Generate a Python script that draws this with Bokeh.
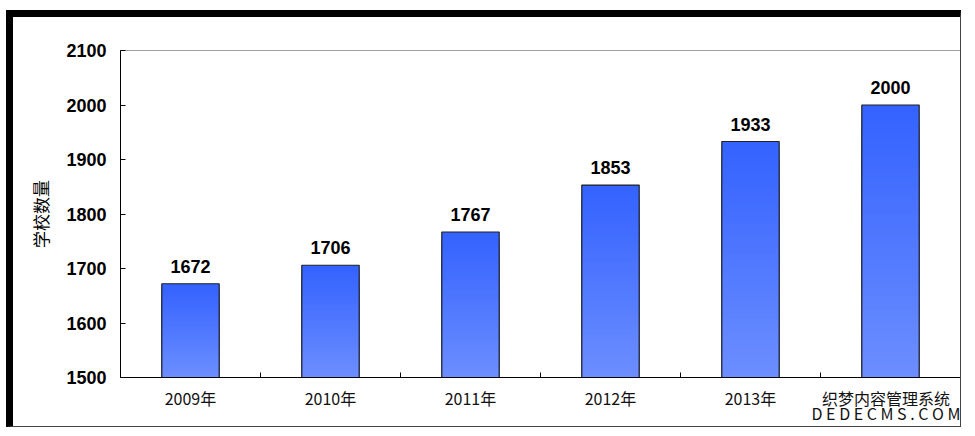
from bokeh.plotting import figure
from bokeh.models import FixedTicker, ColumnDataSource, Range1d
from bokeh.embed import file_html
from bokeh.resources import INLINE
from bokeh.core.properties import value

# ---- data ----
years = ["2009年", "2010年", "2011年", "2012年", "2013年", "2014年"]
schools = [1672, 1706, 1767, 1853, 1933, 2000]
y_ticks = [1500, 1600, 1700, 1800, 1900, 2000, 2100]
y_label = "学校数量"
shown_year_labels = 5  # the last category label is covered by the watermark in the reference
watermark = "织梦内容管理系统\nD E D E C M S . C O M"

base = y_ticks[0]
top_c = (0x33, 0x62, 0xFF)
bot_c = (0x6C, 0x8E, 0xFF)

W, H = 955, 417
p = figure(width=W, height=H, output_backend="svg", toolbar_location=None,
           x_range=Range1d(0, len(years)), y_range=Range1d(y_ticks[0], y_ticks[-1]),
           min_border_left=107, min_border_right=8, min_border_top=33, min_border_bottom=57)
p.styles = {"margin-left": "6px", "margin-top": "10px",
            "border-left": "7px solid black", "border-top": "7px solid black",
            "border-right": "1px solid #444", "border-bottom": "1px solid #444"}
p.background_fill_color = "white"
p.border_fill_color = "white"
p.outline_line_color = "#a0a0a0"
p.grid.visible = False

# gradient bars built from the data: overlapping slices, tallest first
N = 40
xs, tops, cols = [], [], []
for k in range(N - 1, -1, -1):
    t = (k + 1) / N
    c = tuple(int(round(bot_c[j] + (top_c[j] - bot_c[j]) * (k + 0.5) / N)) for j in range(3))
    for i, v in enumerate(schools):
        xs.append(i + 0.5)
        tops.append(base + (v - base) * t)
        cols.append("#%02x%02x%02x" % c)
p.vbar(x=xs, bottom=base, top=tops, width=0.41, fill_color=cols, line_color=None)

src = ColumnDataSource(dict(x=[i + 0.5 for i in range(len(years))], top=schools,
                            lab=[str(v) for v in schools]))
p.vbar(x="x", bottom=base, top="top", width=0.41, source=src,
       fill_alpha=0, line_color="#222222", line_width=1.2)
p.text(x="x", y="top", text="lab", source=src, text_align="center", text_baseline="bottom",
       y_offset=-11, text_font=value("Liberation Sans"), text_font_style="bold",
       text_font_size="18px", text_color="black")

# axes
xa = p.xaxis[0]
xa.ticker = FixedTicker(ticks=[i + 0.5 for i in range(len(years))],
                        minor_ticks=list(range(1, len(years))))
overrides = {i + 0.5: years[i] for i in range(shown_year_labels)}
overrides[len(years) - 0.5] = watermark
xa.major_label_overrides = overrides
xa.major_tick_in = 0
xa.major_tick_out = 0
xa.minor_tick_in = 5
xa.minor_tick_out = 0
xa.minor_tick_line_color = "black"
xa.axis_line_color = "black"
xa.major_label_standoff = 8
xa.major_label_text_font = "Noto Sans CJK SC"
xa.major_label_text_font_size = "16px"
xa.major_label_text_line_height = 0.65
xa.major_label_text_color = "#111111"

ya = p.yaxis[0]
ya.ticker = FixedTicker(ticks=y_ticks)
ya.major_tick_in = 5
ya.major_tick_out = 0
ya.minor_tick_line_color = None
ya.axis_line_color = "black"
ya.major_label_standoff = 14
ya.major_label_text_font = "Liberation Sans"
ya.major_label_text_font_style = "bold"
ya.major_label_text_font_size = "18px"
ya.major_label_text_color = "black"
ya.axis_label = y_label
ya.axis_label_text_font = "Noto Sans CJK SC"
ya.axis_label_text_font_style = "normal"
ya.axis_label_text_font_size = "17px"
ya.axis_label_standoff = 10
ya.axis_label_text_color = "#000000"

open("out.html", "w").write(file_html(p, INLINE))
